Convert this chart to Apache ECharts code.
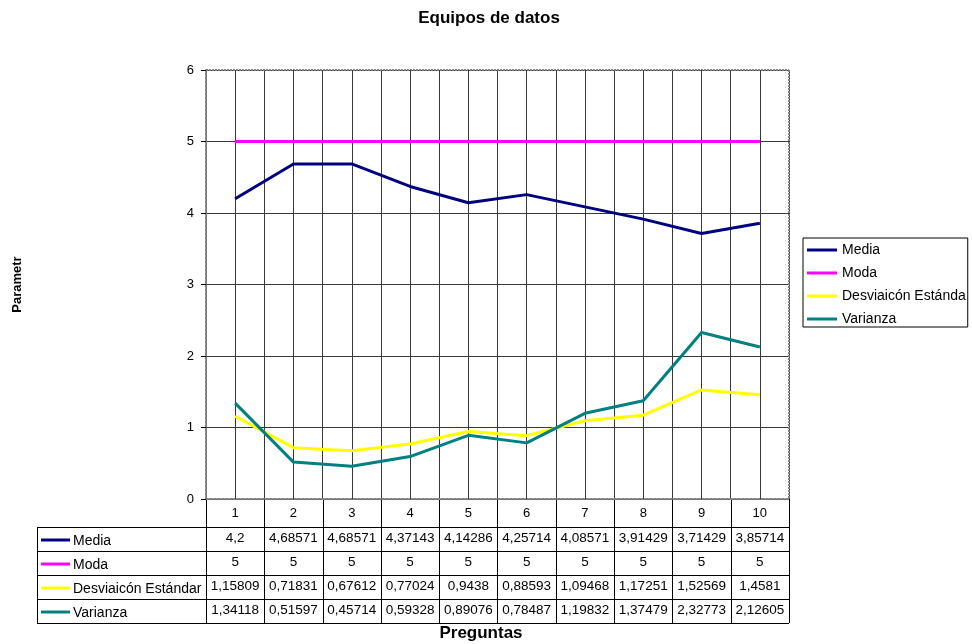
<!DOCTYPE html>
<html><head><meta charset="utf-8">
<script src="https://cdn.jsdelivr.net/npm/echarts@6/dist/echarts.min.js"></script>
<style>html,body{margin:0;padding:0;background:#fff}#c{width:972px;height:644px}</style>
</head><body><div id="c"></div>
<script>
var categories = ['1','2','3','4','5','6','7','8','9','10'];
var media = [4.2, 4.68571, 4.68571, 4.37143, 4.14286, 4.25714, 4.08571, 3.91429, 3.71429, 3.85714];
var moda = [5, 5, 5, 5, 5, 5, 5, 5, 5, 5];
var desviacion = [1.15809, 0.71831, 0.67612, 0.77024, 0.9438, 0.88593, 1.09468, 1.17251, 1.52569, 1.4581];
var varianza = [1.34118, 0.51597, 0.45714, 0.59328, 0.89076, 0.78487, 1.19832, 1.37479, 2.32773, 2.12605];
var seriesNames = ['Media', 'Moda', 'Desviaicón Estándar', 'Varianza'];
var legendNames = ['Media', 'Moda', 'Desviaicón Estánda', 'Varianza'];
var seriesData = [media, moda, desviacion, varianza];
var colors = ['#000080', '#FF00FF', '#FFFF00', '#008080'];
var yTicks = [0, 1, 2, 3, 4, 5, 6];

var FONT = 'Liberation Sans, Arial, sans-serif';
var GRID = '#383838';
var chart = echarts.init(document.getElementById('c'), null, {renderer: 'canvas'});

function fmt(v) { return String(v).replace('.', ','); }

var option = {
  animation: false,
  backgroundColor: '#fff',
  title: {
    text: 'Equipos de datos', left: 484, top: 5, textAlign: 'center',
    textStyle: {fontFamily: FONT, fontSize: 17, fontWeight: 'bold', color: '#000'}
  },
  grid: {left: 206, top: 70, width: 583, height: 429, show: false},
  xAxis: {
    type: 'category', data: categories, boundaryGap: true,
    axisLine: {lineStyle: {color: '#808080', width: 2, type: 'dotted'}},
    axisTick: {show: true, inside: true, length: 429, alignWithLabel: true, interval: 0,
      lineStyle: {color: GRID, width: 1}},
    axisLabel: {show: false},
    splitLine: {show: true, interval: 0, lineStyle: {color: GRID, width: 1}}
  },
  yAxis: {
    type: 'value', min: yTicks[0], max: yTicks[yTicks.length - 1], interval: 1,
    axisLine: {show: true, lineStyle: {color: '#808080', width: 2, type: 'dotted'}},
    axisTick: {show: true, length: 5, lineStyle: {color: '#000'}},
    axisLabel: {fontFamily: FONT, fontSize: 13, color: '#000', margin: 12},
    splitLine: {show: true, lineStyle: {color: GRID, width: 1}},
    name: 'Parametr', nameLocation: 'middle', nameGap: 182, nameRotate: 90,
    nameTextStyle: {fontFamily: FONT, fontSize: 13, fontWeight: 'bold', color: '#000'}
  },
  legend: {
    orient: 'vertical', left: 803, top: 238, itemWidth: 30, itemHeight: 3, itemGap: 9,
    icon: 'rect', data: seriesNames,
    formatter: function (n) { return legendNames[seriesNames.indexOf(n)]; },
    textStyle: {fontFamily: FONT, fontSize: 14, lineHeight: 14, color: '#000'},
    itemStyle: {borderWidth: 0},
    borderColor: '#000', borderWidth: 1, padding: [5, 2, 1, 4], borderRadius: 0
  },
  series: seriesNames.map(function (n, i) {
    return {
      name: n, type: 'line', data: seriesData[i], symbol: 'none',
      lineStyle: {color: colors[i], width: 3}, itemStyle: {color: colors[i]},
      z: 3
    };
  })
};
chart.setOption(option);

// Data table built from the arrays, positioned via axis conversion
function buildTable() {
  var els = [];
  var x0 = chart.convertToPixel({xAxisIndex: 0}, categories[0]);
  var x1 = chart.convertToPixel({xAxisIndex: 0}, categories[1]);
  var cw = x1 - x0;
  var left = x0 - cw / 2;
  var right = left + cw * categories.length;
  var yBase = chart.convertToPixel({yAxisIndex: 0}, yTicks[0]);
  var yTop = chart.convertToPixel({yAxisIndex: 0}, yTicks[yTicks.length - 1]);
  var headerH = 28, rowH = 24;
  var tableTop = yBase + headerH;
  var tableLeft = 37;
  var nRows = seriesNames.length;
  var bottom = tableTop + rowH * nRows;
  var lc = '#000';
  // plot frame top and right (dotted)
  els.push({type: 'line', shape: {x1: left, y1: yTop, x2: right, y2: yTop}, style: {stroke: '#808080', lineWidth: 2, lineDash: [2, 1]}});
  els.push({type: 'line', shape: {x1: right, y1: yTop, x2: right, y2: yBase}, style: {stroke: '#808080', lineWidth: 2, lineDash: [2, 1]}});
  // vertical lines from baseline through table
  for (var c = 0; c <= categories.length; c++) {
    var x = Math.round(left + c * cw) + 0.5;
    els.push({type: 'line', shape: {x1: x, y1: yBase, x2: x, y2: bottom}, style: {stroke: lc, lineWidth: 1}});
  }
  els.push({type: 'line', shape: {x1: tableLeft + 0.5, y1: tableTop, x2: tableLeft + 0.5, y2: bottom}, style: {stroke: lc, lineWidth: 1}});
  for (var r = 0; r <= nRows; r++) {
    var y = Math.round(tableTop + r * rowH) + 0.5;
    els.push({type: 'line', shape: {x1: tableLeft, y1: y, x2: right, y2: y}, style: {stroke: lc, lineWidth: 1}});
  }
  // header category labels
  categories.forEach(function (cat, c) {
    els.push({type: 'text', x: left + (c + 0.5) * cw, y: yBase + 14,
      style: {text: cat, font: '13px ' + FONT, fill: '#000', textAlign: 'center', textVerticalAlign: 'middle'}});
  });
  // rows
  seriesNames.forEach(function (n, r) {
    var cy = tableTop + r * rowH + rowH / 2;
    els.push({type: 'line', shape: {x1: 41, y1: cy + 1, x2: 70, y2: cy + 1}, style: {stroke: colors[r], lineWidth: 3}});
    els.push({type: 'text', x: 73, y: cy + 2,
      style: {text: n, font: '14px ' + FONT, fill: '#000', textAlign: 'left', textVerticalAlign: 'middle', width: left - 73, overflow: 'truncate', ellipsis: ''}});
    seriesData[r].forEach(function (v, c) {
      els.push({type: 'text', x: left + (c + 0.5) * cw, y: cy - 1,
        style: {text: fmt(v), font: '13.5px ' + FONT, fill: '#000', textAlign: 'center', textVerticalAlign: 'middle'}});
    });
  });
  els.push({type: 'text', x: 481, y: 633,
    style: {text: 'Preguntas', font: 'bold 17px ' + FONT, fill: '#000', textAlign: 'center', textVerticalAlign: 'middle'}});
  chart.setOption({graphic: {elements: els}});
}
buildTable();
</script></body></html>
